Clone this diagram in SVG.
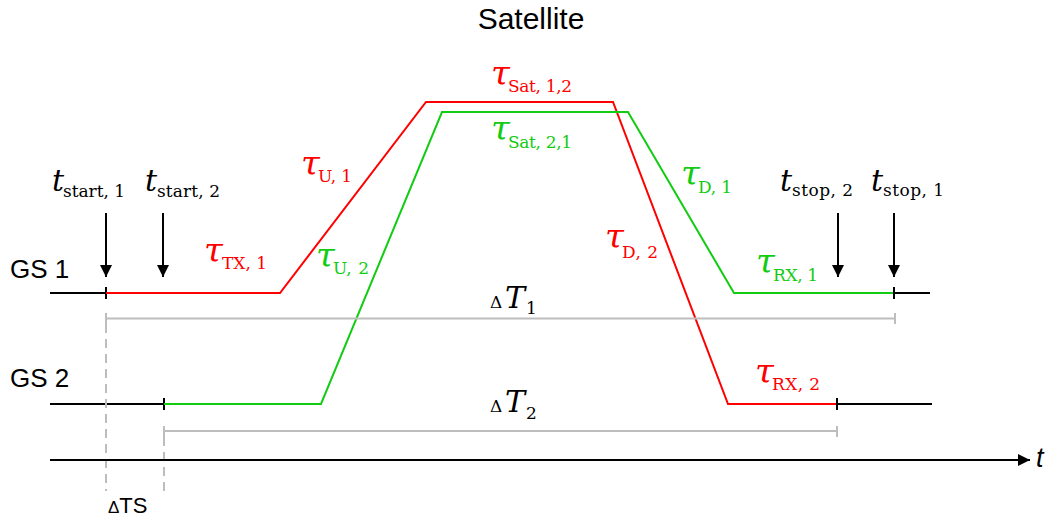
<svg xmlns="http://www.w3.org/2000/svg" width="1050" height="522" viewBox="0 0 1050 522">
<defs>
<style>
.sans{font-family:"Liberation Sans",Arial,sans-serif;fill:#000}
.tau{font-family:"DejaVu Serif","Liberation Serif",serif;font-style:italic;font-size:34px}
.sub{font-family:"DejaVu Serif","Liberation Serif",serif;font-size:17px}
.tt{font-family:"DejaVu Serif","Liberation Serif",serif;font-style:italic;font-size:30px;fill:#000}
.red{fill:#ff0000}
.grn{fill:#11cc11}
.blk{stroke:#000;stroke-width:2;fill:none}
.rl{stroke:#ff0000;stroke-width:2;fill:none}
.gl{stroke:#11cc11;stroke-width:2;fill:none}
.gray{stroke:#bdbdbd;stroke-width:2;fill:none}
.dash{stroke:#bdbdbd;stroke-width:2;fill:none;stroke-dasharray:9 6}
</style>
<marker id="ah" viewBox="0 0 10 10" refX="10" refY="5" markerWidth="6" markerHeight="6" orient="auto" markerUnits="strokeWidth">
<path d="M0,0 L10,5 L0,10 Z" fill="#000"/>
</marker>
<marker id="ahd" viewBox="0 0 10 10" refX="10" refY="5" markerWidth="7.5" markerHeight="6" orient="auto" markerUnits="strokeWidth">
<path d="M0,0 L10,5 L0,10 Z" fill="#000"/>
</marker>
</defs>
<rect width="1050" height="522" fill="#fff"/>

<g id="title"><text class="sans" x="531" y="29" font-size="30" text-anchor="middle">Satellite</text></g>
<g id="gs1"><text class="sans" x="10" y="278" font-size="26">GS 1</text></g>
<g id="gs2"><text class="sans" x="10" y="387" font-size="26">GS 2</text></g>

<g id="connectors">
<line class="blk" x1="50" y1="293" x2="106" y2="293"/>
<line class="blk" x1="106" y1="287" x2="106" y2="299" stroke-width="1.5"/>
<polyline class="rl" points="106,293 280,293 426,102 613,102 728,404 837,404"/>
<line class="blk" x1="837" y1="404" x2="932" y2="404"/>
<line class="blk" x1="837" y1="398" x2="837" y2="410" stroke-width="1.5"/>
<line class="blk" x1="50" y1="404" x2="164" y2="404"/>
<line class="blk" x1="164" y1="398" x2="164" y2="410" stroke-width="1.5"/>
<polyline class="gl" points="164,404 321,404 442,112 628,112 734,293 894,293"/>
<line class="blk" x1="894" y1="293" x2="930" y2="293"/>
<line class="blk" x1="894" y1="287" x2="894" y2="299" stroke-width="1.5"/>
<line class="gray" x1="106" y1="318.5" x2="895" y2="318.5"/>
<line class="gray" x1="106" y1="313" x2="106" y2="324"/>
<line class="gray" x1="895" y1="313" x2="895" y2="324"/>
<line class="gray" x1="164" y1="431" x2="837" y2="431"/>
<line class="gray" x1="164" y1="426" x2="164" y2="437"/>
<line class="gray" x1="837" y1="426" x2="837" y2="437"/>
<line class="dash" x1="106" y1="324" x2="106" y2="491"/>
<line class="dash" x1="164" y1="437" x2="164" y2="491"/>
<line class="blk" x1="50" y1="460" x2="1030" y2="460" marker-end="url(#ah)"/>
<line class="blk" x1="106" y1="213" x2="106" y2="277" marker-end="url(#ahd)"/>
<line class="blk" x1="163" y1="213" x2="163" y2="277" marker-end="url(#ahd)"/>
<line class="blk" x1="838" y1="213" x2="838" y2="277" marker-end="url(#ahd)"/>
<line class="blk" x1="894" y1="213" x2="894" y2="277" marker-end="url(#ahd)"/>
</g>

<g id="labels">
<text class="red"><tspan class="tau" x="204" y="262">τ</tspan><tspan class="sub" x="222" y="269" textLength="45">TX, 1</tspan></text>
<text class="red"><tspan class="tau" x="301" y="175">τ</tspan><tspan class="sub" x="318" y="182" textLength="34">U, 1</tspan></text>
<text class="grn"><tspan class="tau" x="316" y="267">τ</tspan><tspan class="sub" x="333" y="274" textLength="36">U, 2</tspan></text>
<text class="red"><tspan class="tau" x="491" y="85">τ</tspan><tspan class="sub" x="508" y="92" textLength="64">Sat, 1,2</tspan></text>
<text class="grn"><tspan class="tau" x="491" y="140">τ</tspan><tspan class="sub" x="508" y="148" textLength="64">Sat, 2,1</tspan></text>
<text class="grn"><tspan class="tau" x="681" y="185">τ</tspan><tspan class="sub" x="698" y="193" textLength="34">D, 1</tspan></text>
<text class="red"><tspan class="tau" x="605" y="248">τ</tspan><tspan class="sub" x="622" y="258" textLength="36">D, 2</tspan></text>
<text class="grn"><tspan class="tau" x="756" y="273">τ</tspan><tspan class="sub" x="773" y="281" textLength="45">RX, 1</tspan></text>
<text class="red"><tspan class="tau" x="755" y="383">τ</tspan><tspan class="sub" x="772" y="390" textLength="48">RX, 2</tspan></text>
</g>

<g id="events">
<text><tspan class="tt" x="52" y="191">t</tspan><tspan class="sub" x="63" y="197" textLength="62">start, 1</tspan></text>
<text><tspan class="tt" x="145" y="191">t</tspan><tspan class="sub" x="157" y="197" textLength="63">start, 2</tspan></text>
<text><tspan class="tt" x="780" y="191">t</tspan><tspan class="sub" x="792" y="196" textLength="61">stop, 2</tspan></text>
<text><tspan class="tt" x="871" y="191">t</tspan><tspan class="sub" x="883" y="196" textLength="61">stop, 1</tspan></text>
</g>

<g id="deltas">
<text><tspan class="sub" x="490" y="308" font-size="19">Δ</tspan><tspan class="tt" x="505" y="308">T</tspan><tspan class="sub" x="526" y="314">1</tspan></text>
<text><tspan class="sub" x="490" y="412" font-size="19">Δ</tspan><tspan class="tt" x="505" y="412">T</tspan><tspan class="sub" x="526" y="419">2</tspan></text>
<text class="sans" x="108" y="513" font-size="22"><tspan font-size="17">Δ</tspan>TS</text>
<text class="sans" x="1036" y="467" font-size="27" font-style="italic">t</text>
</g>
</svg>
